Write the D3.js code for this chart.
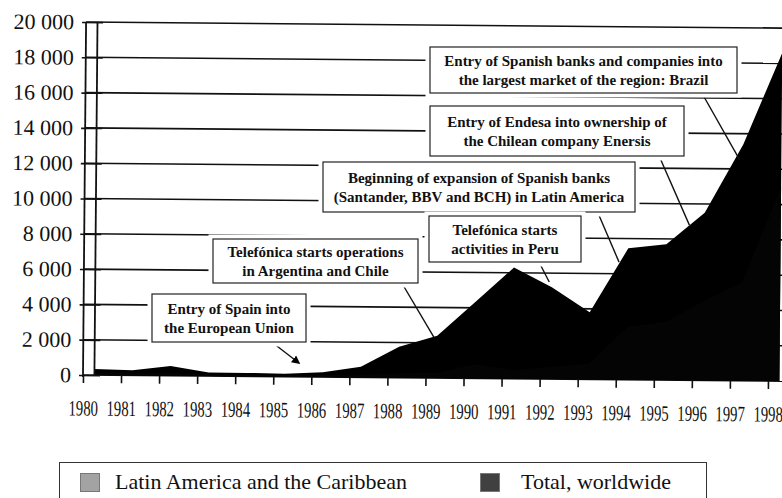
<!DOCTYPE html>
<html>
<head>
<meta charset="utf-8">
<script src="https://cdn.jsdelivr.net/npm/d3@7"></script>
<style>
  body { margin: 0; background: #fff; }
  svg { display: block; }
  text { font-family: "Liberation Serif", "Times New Roman", serif; fill: #111; }
</style>
</head>
<body>
<svg id="chart" width="782" height="498"></svg>
<script>
// Spanish direct investment abroad, millions of dollars
const years = [1980, 1981, 1982, 1983, 1984, 1985, 1986, 1987, 1988, 1989,
               1990, 1991, 1992, 1993, 1994, 1995, 1996, 1997, 1998];
const totalWorldwide = [350, 300, 550, 200, 200, 170, 280, 600, 1750, 2400,
                        4350, 6300, 5200, 3800, 7450, 7700, 9500, 13400, 18600];
const latinAmerica = [150, 130, 150, 100, 100, 90, 120, 150, 250, 300,
                      800, 500, 700, 900, 3000, 3300, 4500, 5600, 11000];
const yTicks = [0, 2000, 4000, 6000, 8000, 10000, 12000, 14000, 16000, 18000, 20000];
const seriesNames = ["Latin America and the Caribbean", "Total, worldwide"];

const noteText = [
  ["Entry of Spanish banks and companies into", "the largest market of the region: Brazil"],
  ["Entry of Endesa into ownership of", "the Chilean company Enersis"],
  ["Beginning of expansion of Spanish banks", "(Santander, BBV and BCH) in Latin America"],
  ["Telefónica starts", "activities in Peru"],
  ["Telefónica starts operations", "in Argentina and Chile"],
  ["Entry of Spain into", "the European Union"]
];
// what each note points at: [year, value]
const noteTarget = [[1997.21, 12500], [1995.9, 8790], [1994.06, 6660],
                    [1992.23, 5500], [1989.21, 2320], [1985.67, 790]];

const svg = d3.select("#chart");
const x = d3.scaleLinear().domain([1980, 1998]).range([83, 768]);
const y = d3.scaleLinear().domain([0, 20000]).range([375, 22]);
const shift = 0.3;          // data sit a little right of the year ticks
const tilt = 0.5;           // the page is scanned slightly crooked

const chart = svg.append("g")
  .attr("transform", `rotate(${tilt},${x(1980)},${y(0)})`);

// grid lines
chart.selectAll(".grid")
  .data(yTicks)
  .enter()
  .append("line")
    .attr("x1", x(1980))
    .attr("x2", 800)
    .attr("y1", d => y(d))
    .attr("y2", d => y(d))
    .attr("stroke", "#111")
    .attr("stroke-width", 1.6);

// areas
const area = vals => d3.area()
  .x((d, i) => x(years[i] + shift))
  .y0(y(0))
  .y1(d => y(d))(vals);

chart.append("path").attr("d", area(totalWorldwide)).attr("fill", "#000");
chart.append("path").attr("d", area(latinAmerica)).attr("fill", "#040404");

// y axis
chart.append("line")
  .attr("x1", x(1980)).attr("x2", x(1980))
  .attr("y1", y(20000)).attr("y2", y(0) + 2)
  .attr("stroke", "#111").attr("stroke-width", 1.8);
chart.append("line")
  .attr("x1", x(1980 + shift)).attr("x2", x(1980 + shift))
  .attr("y1", y(20000)).attr("y2", y(0))
  .attr("stroke", "#111").attr("stroke-width", 1.8);

const fmt = d3.formatLocale({ thousands: " ", grouping: [3], decimal: ".", currency: ["", ""] }).format(",");

const yAxis = chart.append("g")
  .attr("transform", "translate(100,0)")
  .call(d3.axisLeft(y).tickValues(yTicks).tickSize(21).tickPadding(8).tickFormat(fmt));
yAxis.select(".domain").remove();
yAxis.selectAll("line").attr("stroke", "#111").attr("stroke-width", 1.6);
yAxis.selectAll("text")
  .attr("font-family", null)
  .style("font-size", "22px");

// x axis
const xAxis = chart.append("g")
  .attr("transform", `translate(0,${y(0)})`)
  .call(d3.axisBottom(x).tickValues(years).tickSize(8).tickPadding(17).tickFormat(d3.format("d")));
xAxis.select(".domain").remove();
xAxis.selectAll("line").attr("stroke", "#111").attr("stroke-width", 1.6);
xAxis.selectAll("text")
  .attr("font-family", null)
  .attr("transform", "scale(0.67,1)")
  .style("font-size", "22px");

// map a data point to the page, including the tilt
function onPage(p) {
  const a = tilt * Math.PI / 180, cx = x(1980), cy = y(0);
  const px = x(p[0]) - cx, py = y(p[1]) - cy;
  return [cx + px * Math.cos(a) - py * Math.sin(a), cy + px * Math.sin(a) + py * Math.cos(a)];
}

// note boxes: [left, top, width, height] and the start of the leader line
const boxes = [[430, 47, 307, 46], [430, 106, 254, 50], [323, 162, 312, 50],
               [429, 216, 152, 46], [213, 239, 205, 44], [152, 294, 154, 48]];
const leaderFrom = [[703, 95], [660, 158], [598, 213], [540, 264], [403, 285], [273, 343]];

svg.append("defs").append("marker")
  .attr("id", "head")
  .attr("viewBox", "0 0 10 10")
  .attr("refX", 8).attr("refY", 5)
  .attr("markerWidth", 6).attr("markerHeight", 6)
  .attr("orient", "auto")
  .append("path").attr("d", "M0,0L10,5L0,10z").attr("fill", "#000");

const notes = svg.append("g");
noteText.forEach((lines, i) => {
  const b = boxes[i];
  const end = onPage(noteTarget[i]);
  notes.append("line")
    .attr("x1", leaderFrom[i][0]).attr("y1", leaderFrom[i][1])
    .attr("x2", end[0]).attr("y2", end[1])
    .attr("stroke", "#111").attr("stroke-width", 1.4)
    .attr("marker-end", i === 5 ? "url(#head)" : null);
  // white halo breaks the grid lines round the box
  notes.append("rect")
    .attr("x", b[0]).attr("y", b[1]).attr("width", b[2]).attr("height", b[3])
    .attr("fill", "#fff").attr("stroke", "#fff").attr("stroke-width", 9);
  notes.append("rect")
    .attr("x", b[0]).attr("y", b[1]).attr("width", b[2]).attr("height", b[3])
    .attr("fill", "#fff").attr("stroke", "#222").attr("stroke-width", 1.2);
  lines.forEach((t, j) => {
    notes.append("text")
      .attr("x", b[0] + b[2] / 2)
      .attr("y", b[1] + b[3] / 2 - 4 + j * 19)
      .attr("text-anchor", "middle")
      .style("font-size", "15px")
      .style("font-weight", "bold")
      .text(t);
  });
});

// legend
const legend = svg.append("g");
legend.append("rect")
  .attr("x", 59.5).attr("y", 462.5).attr("width", 647).attr("height", 60)
  .attr("fill", "none").attr("stroke", "#333").attr("stroke-width", 1);
const legendX = [80, 480];
const legendFill = ["#a3a3a3", "#404040"];
seriesNames.forEach((name, i) => {
  legend.append("rect")
    .attr("x", legendX[i] + 0.5).attr("y", 473.5).attr("width", 19).attr("height", 18)
    .attr("fill", legendFill[i]).attr("stroke", "#777").attr("stroke-width", 1);
  legend.append("text")
    .attr("x", legendX[i] + 35 + (i === 1 ? 6 : 0)).attr("y", 489)
    .style("font-size", "22px")
    .text(name);
});
</script>
</body>
</html>
